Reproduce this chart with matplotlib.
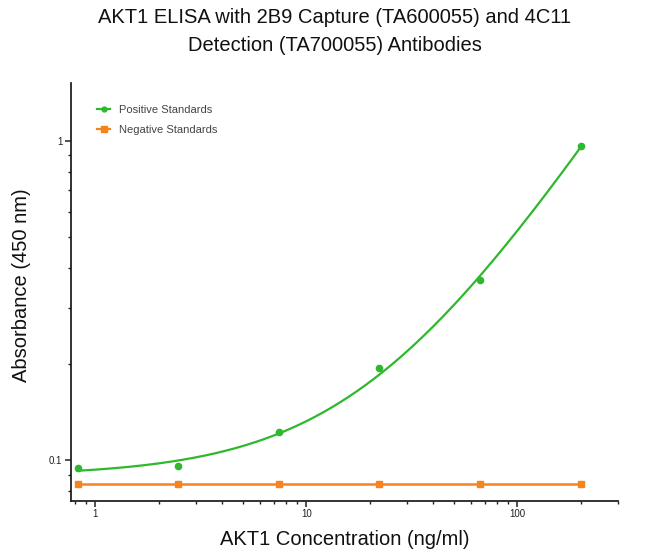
import numpy as np
import matplotlib
matplotlib.use("Agg")
import matplotlib.pyplot as plt
from matplotlib.ticker import FixedLocator, NullFormatter, FixedFormatter

plt.rcParams['font.family'] = ['Liberation Sans', 'DejaVu Sans']

# Data
conc = [0.823, 2.47, 7.41, 22.2, 66.7, 200.0]
positive = [0.0942, 0.0956, 0.1227, 0.1937, 0.366, 0.962]
negative = [0.0841, 0.0841, 0.0841, 0.0841, 0.0841, 0.0841]
x_ticks = [1, 10, 100]
x_tick_labels = ["1", "10", "100"]
y_ticks = [0.1, 1]
y_tick_labels = ["0.1", "1"]

title = "AKT1 ELISA with 2B9 Capture (TA600055) and 4C11\nDetection (TA700055) Antibodies"
xlabel = "AKT1 Concentration (ng/ml)"
ylabel = "Absorbance (450 nm)"

green = "#2eb82e"
orange = "#f5841f"

fig = plt.figure(figsize=(6.5, 5.6), dpi=100)
ax = fig.add_axes([0.1085, 0.1054, 0.8423, 0.7469])

# fitted standard curve (linear least squares, weighted for log display)
xc = np.array(conc)
yc = np.array(positive)
coef = np.polyfit(xc, yc, 1, w=1.0 / yc)
xs = np.logspace(np.log10(xc.min()), np.log10(xc.max()), 300)
ax.plot(xs, np.polyval(coef, xs), color=green, lw=1.6, zorder=3)
ax.plot(conc, positive, 'o', color=green, ms=4.5, zorder=4)
ax.plot(conc, negative, '-s', color=orange, lw=1.8, ms=5, zorder=3)

ax.set_xscale('log')
ax.set_yscale('log')
ax.set_xlim(0.762, 300)
ax.set_ylim(0.0744, 1.52)

ax.xaxis.set_major_locator(FixedLocator(x_ticks))
ax.xaxis.set_major_formatter(FixedFormatter(x_tick_labels))
xminor = [0.8, 0.9] + [m * d for d in (1, 10) for m in range(2, 10)] + [200, 300]
ax.xaxis.set_minor_locator(FixedLocator(xminor))
ax.xaxis.set_minor_formatter(NullFormatter())

ax.yaxis.set_major_locator(FixedLocator(y_ticks))
ax.yaxis.set_major_formatter(FixedFormatter(y_tick_labels))
yminor = [0.08, 0.09] + [m * 0.1 for m in range(2, 10)]
ax.yaxis.set_minor_locator(FixedLocator(yminor))
ax.yaxis.set_minor_formatter(NullFormatter())

for s in ('top', 'right'):
    ax.spines[s].set_visible(False)
for s in ('left', 'bottom'):
    ax.spines[s].set_linewidth(1.3)
    ax.spines[s].set_color('#222222')

ax.tick_params(which='major', length=4, width=1.1, labelsize=7, colors='#222222', pad=2)
ax.tick_params(which='minor', length=2.5, width=1.0, colors='#222222')

ax.set_xlabel(xlabel, fontsize=14.5, color='#111111', labelpad=8)
ax.set_ylabel(ylabel, fontsize=14.5, color='#111111', labelpad=14)
ax.yaxis.set_label_coords(-0.072, 0.515)

fig.text(0.515, 0.985, title, ha='center', va='top', fontsize=14.5, color='#111111',
         linespacing=1.6)

ax.plot([], [], '-o', color=green, ms=3.5, lw=1.6, label='Positive Standards')
ax.plot([], [], '-s', color=orange, ms=4, lw=1.6, label='Negative Standards')
handles, labels = ax.get_legend_handles_labels()
leg = ax.legend(handles[-2:], labels[-2:], loc='upper left', bbox_to_anchor=(0.03, 0.97),
                frameon=False, fontsize=8, handlelength=1.2, handletextpad=0.8,
                labelspacing=0.9, labelcolor='#444444')

fig.savefig("out.png", dpi=100, facecolor='white')
